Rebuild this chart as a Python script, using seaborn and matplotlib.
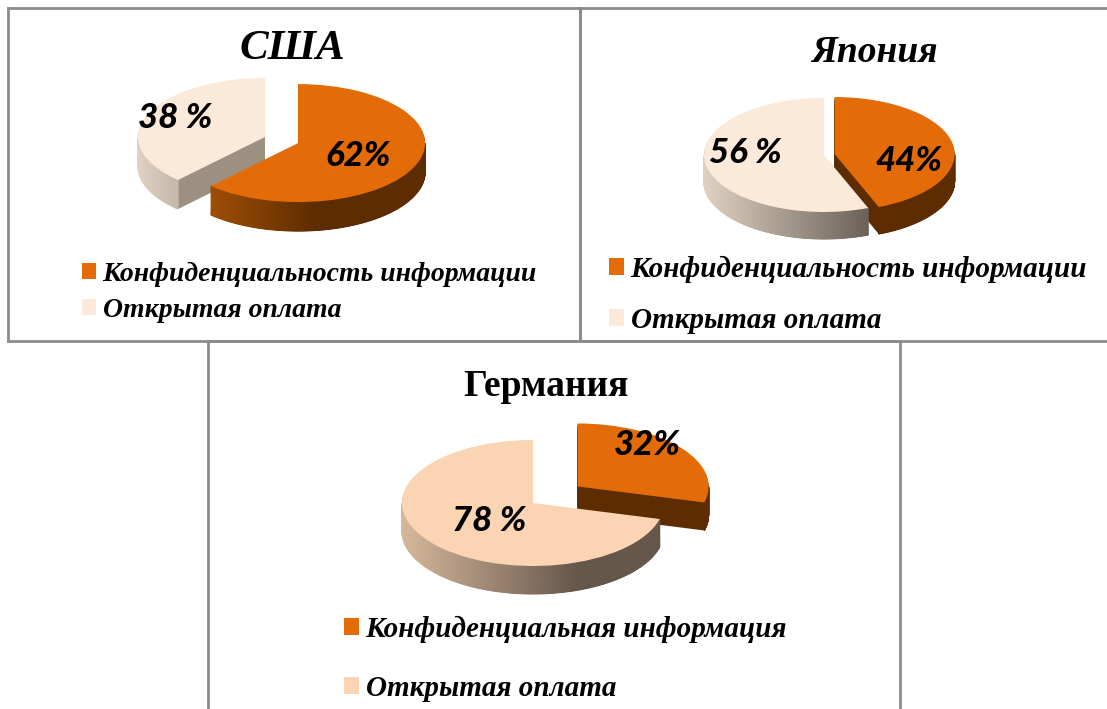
import matplotlib
matplotlib.use("Agg")
import matplotlib.pyplot as plt
import numpy as np
import seaborn as sns

W, H = 1107, 709

countries = ['США', 'Япония', 'Германия']
usa_values = [62, 38]
japan_values = [44, 56]
germany_values = [32, 78]
usa_labels = ['62%', '38 %']
japan_labels = ['44%', '56 %']
germany_labels = ['32%', '78 %']
legend_a = ['Конфиденциальность информации', 'Открытая оплата']
legend_b = ['Конфиденциальная информация', 'Открытая оплата']

ORANGE = '#e36c09'
CREAM = '#fbe9d9'
PEACH = '#fbd4b4'
FRAME = '#8c8c8c'

sns.set_theme(style='white')
plt.rcParams['font.family'] = ['Liberation Serif', 'DejaVu Serif']

charts = [
    dict(title=countries[0], title_xy=(292, 49), title_size=31, title_style='italic',
         values=usa_values, labels=usa_labels, explode=[0.28, 0], centre=(265, 137), rx=127, ry=59,
         depth=29, order=[1, 0], colors=[ORANGE, CREAM],
         cut=['#5d2c00', '#9c9080'],
         side=[('#b85a08', '#5d2c00', 0.58), ('#e0d2c2', '#6b6259', 0.68)],
         label_xy=[(358, 156), (175, 118)],
         legend=legend_a, legend_xy=(82, 262), legend_gap=0.40, legend_size=20),
    dict(title=countries[1], title_xy=(874, 53), title_size=27, title_style='italic',
         values=japan_values, labels=japan_labels, explode=[0.09, 0], centre=(824, 155), rx=120, ry=57,
         depth=27, order=[0, 1], colors=[ORANGE, CREAM],
         cut=['#5d2c00', '#9c9080'],
         side=[('#5d2c00', '#5d2c00', 0.9), ('#e0d2c2', '#6b6259', 0.68)],
         label_xy=[(909, 161), (745, 153)],
         legend=legend_a, legend_xy=(609, 256), legend_gap=0.83, legend_size=21),
    dict(title=countries[2], title_xy=(546, 386), title_size=27, title_style='normal',
         values=germany_values, labels=germany_labels, explode=[0.43, 0], centre=(533, 503), rx=131, ry=63,
         depth=28, order=[0, 1], colors=[ORANGE, PEACH],
         cut=['#5d2c00', '#9c8a78'],
         side=[('#5d2c00', '#5d2c00', 0.9), ('#d6b89c', '#65564a', 0.68)],
         label_xy=[(647, 445), (489, 521)],
         legend=legend_b, legend_xy=(344, 616), legend_gap=1.10, legend_size=21),
]

panels = [(8, 8, 572, 333), (580, 8, 540, 333), (208, 341, 692, 380)]


def fx(x):
    return x / W


def fy(y):
    return 1 - y / H


fig = plt.figure(figsize=(W / 100, H / 100), dpi=100, facecolor='white')

# panel frames
for left, top, width, height in panels:
    pax = fig.add_axes([fx(left), fy(top + height), width / W, height / H], facecolor='none')
    pax.set_xticks([])
    pax.set_yticks([])
    for spine in pax.spines.values():
        spine.set_color(FRAME)
        spine.set_linewidth(2)


def draw_pie(chart):
    # the axes fills the figure, one data unit is rx by ry pixels
    ax = fig.add_axes([0, 0, 1, 1], facecolor='none')
    cx, cy = chart['centre']
    rx, ry = chart['rx'], chart['ry']
    step = 1 / ry
    levels = int(chart['depth'])
    kw = dict(explode=chart['explode'], startangle=90, counterclock=False, radius=1)

    for k in range(levels, 0, -1):
        wedges, _ = ax.pie(chart['values'], colors=chart['cut'], center=(0, -k * step),
                           wedgeprops=dict(linewidth=0), **kw)
        for i, w in enumerate(wedges):
            w.set_zorder(chart['order'][i] * 10 + 1)

    tops, _ = ax.pie(chart['values'], colors=chart['colors'], wedgeprops=dict(linewidth=0), **kw)
    for i, w in enumerate(tops):
        w.set_zorder(chart['order'][i] * 10 + 3)

        # outer wall, shaded from left to right
        light, dark, stop = chart['side'][i]
        cmap = sns.blend_palette([light, dark], as_cmap=True)
        t = np.radians(np.linspace(w.theta1, w.theta2, 400))
        t = t[np.sin(t) < 0]
        xs = w.center[0] + np.cos(t)
        ys = w.center[1] + np.sin(t)
        shade = np.clip((np.cos(t) + 1) / 2 / stop, 0, 1)
        X = np.column_stack([xs, xs])
        Y = np.column_stack([ys - levels * step, ys])
        C = np.column_stack([shade, shade])
        ax.pcolormesh(X, Y, C, shading='gouraud', cmap=cmap, vmin=0, vmax=1,
                      zorder=chart['order'][i] * 10 + 2)

    ax.set_aspect('auto')
    ax.set_xlim((0 - cx) / rx, (W - cx) / rx)
    ax.set_ylim((cy - H) / ry, cy / ry)
    ax.axis('off')

    lx, ly = chart['legend_xy']
    ax.legend(handles=tops, labels=chart['legend'], loc='upper left',
              bbox_to_anchor=(fx(lx), fy(ly)), bbox_transform=fig.transFigure,
              frameon=False, borderpad=0, borderaxespad=0, handlelength=0.52, handleheight=0.52,
              handletextpad=0.22, labelspacing=chart['legend_gap'], labelcolor='black',
              prop=dict(family='Liberation Serif', weight='bold', style='italic',
                        size=chart['legend_size']))

    for text, (x, y) in zip(chart['labels'], chart['label_xy']):
        fig.text(fx(x), fy(y), text, ha='center', va='center', color='black', fontsize=25,
                 family='Lato', weight='black', style='italic')

    x, y = chart['title_xy']
    fig.text(fx(x), fy(y), chart['title'], ha='center', va='center', color='black',
             fontsize=chart['title_size'], weight='bold', style=chart['title_style'])


for chart in charts:
    draw_pie(chart)

fig.savefig('out.png', dpi=100, facecolor='white')
plt.close(fig)
